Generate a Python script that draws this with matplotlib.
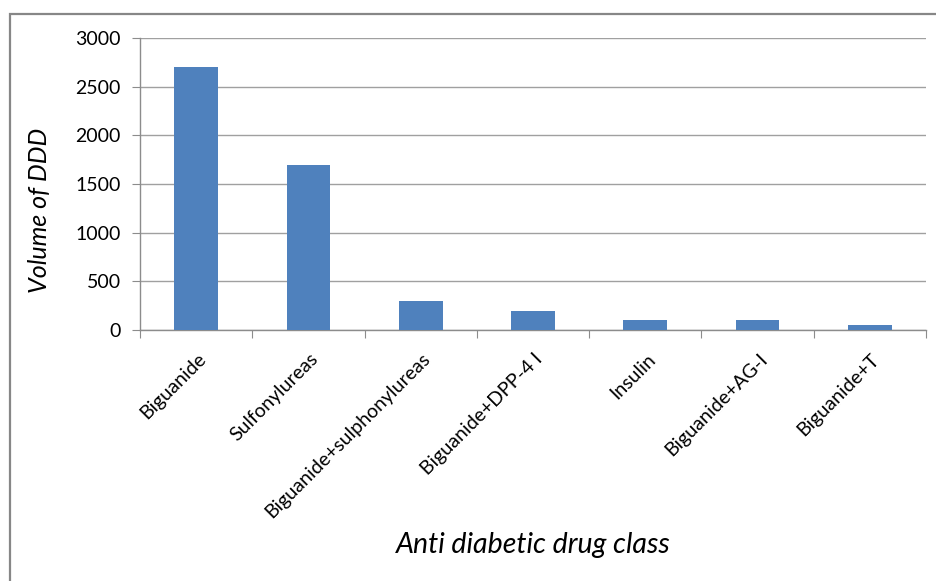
import matplotlib
matplotlib.use("Agg")
import matplotlib.pyplot as plt
from matplotlib.patches import Rectangle
import matplotlib.transforms as mtransforms
import numpy as np

categories = ["Biguanide", "Sulfonylureas", "Biguanide+sulphonylureas",
              "Biguanide+DPP-4 I", "Insulin", "Biguanide+AG-I", "Biguanide+T"]
ddd_volume = [2700, 1700, 300, 200, 100, 100, 50]
y_ticks = [0, 500, 1000, 1500, 2000, 2500, 3000]

W, H = 937, 581
plt.rcParams['font.family'] = ['Lato', 'DejaVu Sans']

fig = plt.figure(figsize=(W / 100, H / 100), dpi=100)
fig.patch.set_facecolor('white')

# outer chart frame (top and left edges visible)
frame = Rectangle((10 / W, -0.05), 1.1, (H - 14) / H + 0.05, transform=fig.transFigure,
                  fill=False, edgecolor='#878787', linewidth=1.6)
fig.patches.append(frame)

left, right, top, bottom = 140, 926, 38, 330
ax = fig.add_axes([left / W, (H - bottom) / H, (right - left) / W, (bottom - top) / H])

x = np.arange(len(categories))
ax.bar(x, ddd_volume, width=0.39, color='#4F81BD', zorder=3)

ax.set_xlim(-0.5, len(categories) - 0.5)
ax.set_ylim(0, 3000)
ax.set_yticks(y_ticks)
ax.set_yticklabels([str(v) for v in y_ticks], fontsize=14)
ax.yaxis.grid(True, color='#A0A0A0', linewidth=1.0, zorder=0)

for s in ['top', 'right']:
    ax.spines[s].set_visible(False)
for s in ['left', 'bottom']:
    ax.spines[s].set_color('#8C8C8C')
    ax.spines[s].set_linewidth(1.0)

ax.tick_params(axis='y', direction='out', length=6, color='#8C8C8C', pad=8)

# boundaries between categories carry the tick marks
ax.set_xticks(np.arange(-0.5, len(categories)), minor=False)
ax.set_xticklabels([''] * (len(categories) + 1))
ax.tick_params(axis='x', which='major', direction='out', length=6, color='#8C8C8C')

# category names sit on minor ticks at bar centres
ax.set_xticks(x, minor=True)
ax.set_xticklabels(categories, minor=True, rotation=45, ha='right', va='center',
                   rotation_mode='anchor', fontsize=14)
ax.tick_params(axis='x', which='minor', length=0, pad=19)
offset = mtransforms.ScaledTranslation(7 / 100, 0, fig.dpi_scale_trans)
for lbl in ax.xaxis.get_minorticklabels():
    lbl.set_transform(lbl.get_transform() + offset)

fig.text(40 / W, (H - 210) / H, "Volume of DDD", rotation=90, style='italic',
         fontsize=18, ha='center', va='center')
fig.text(533 / W, (H - 545) / H, "Anti diabetic drug class", style='italic',
         fontsize=20.5, ha='center', va='center')

fig.savefig("out.png", dpi=100, facecolor='white')
